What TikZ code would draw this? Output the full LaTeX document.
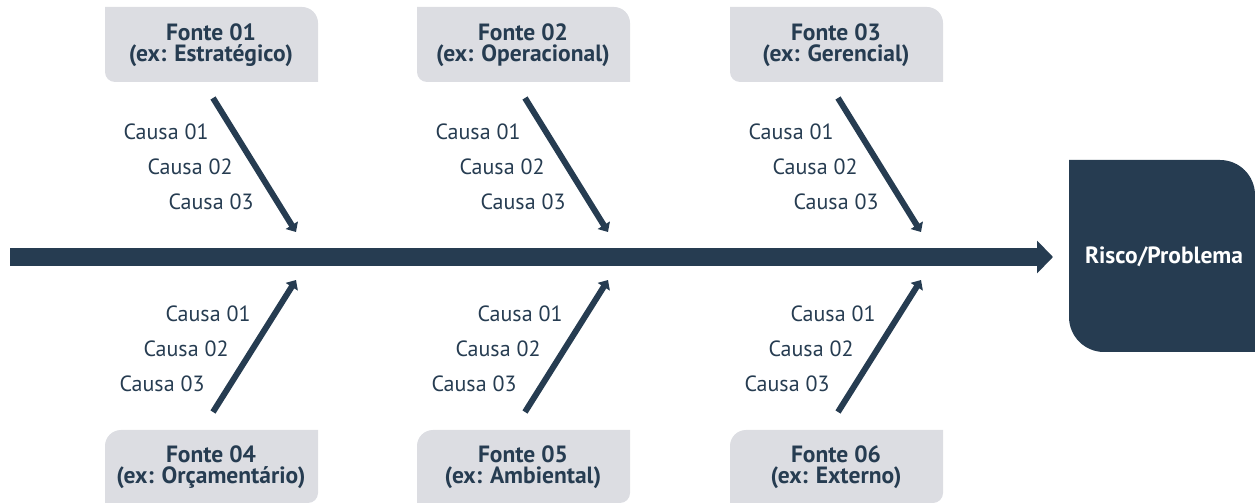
\documentclass[tikz,border=0pt]{standalone}
\usepackage{fontspec}
\setmainfont{PT Sans}
\usetikzlibrary{arrows.meta}
\definecolor{navy}{RGB}{38,60,81}
\definecolor{boxgrey}{RGB}{220,221,226}
\tikzset{
  causa/.style={anchor=base, text=navy, inner sep=0pt, font=\fontsize{22}{24}\selectfont},
  fonte/.style={text=navy, align=center, inner sep=0pt, font=\bfseries\fontsize{23.5}{21.5}\selectfont},
  rib/.style={navy, line width=6pt, -{Triangle[width=14pt,length=8pt]}},
}
\begin{document}
\begin{tikzpicture}[x=1pt, y=1pt]
	\useasboundingbox (0,0) rectangle (1255,503);
	% spine
	\coordinate (tail) at (10,246);
	\coordinate (head) at (1053,246);
	\draw[navy, line width=18pt, -{Triangle[width=32pt,length=16pt]}] (tail)--(head);
	% effect
	\fill[navy] (1069,186)--(1069,343)--(1220,343) arc[start angle=90, end angle=0, radius=35]--(1255,151)--(1104,151) arc[start angle=270, end angle=180, radius=35]--cycle;
	\node[text=white, font=\bfseries\fontsize{23.5}{24}\selectfont] (risco) at (1164,246) {Risco/Problema};
	% sources and causes
	\foreach \o/\i in {0/1,312/2,625/3}{
		\fill[boxgrey] (105+\o,431)--(105+\o,496)--(302+\o,496) arc[start angle=90, end angle=0, radius=16]--(318+\o,421)--(115+\o,421) arc[start angle=270, end angle=180, radius=10]--cycle;
		\fill[boxgrey] (105+\o,0)--(105+\o,57) arc[start angle=180, end angle=90, radius=16]--(318+\o,73)--(318+\o,10) arc[start angle=0, end angle=-90, radius=10]--cycle;
		\coordinate (up\i) at (213+\o,405);
		\coordinate (upend\i) at (296+\o,271);
		\coordinate (lo\i) at (213+\o,91);
		\coordinate (loend\i) at (296+\o,223);
		\draw[rib] (up\i)--(upend\i);
		\draw[rib] (lo\i)--(loend\i);
		\node[causa] (ca\i) at (166+\o,363) {Causa 01};
		\node[causa] (cb\i) at (190+\o,328) {Causa 02};
		\node[causa] (cc\i) at (211+\o,293) {Causa 03};
		\node[causa] (cd\i) at (208+\o,181) {Causa 01};
		\node[causa] (ce\i) at (186+\o,146) {Causa 02};
		\node[causa] (cf\i) at (162+\o,111) {Causa 03};
	}
	\node[fonte] (f1) at (211,458) {Fonte 01\\(ex: Estratégico)};
	\node[fonte] (f2) at (523,458) {Fonte 02\\(ex: Operacional)};
	\node[fonte] (f3) at (836,458) {Fonte 03\\(ex: Gerencial)};
	\node[fonte] (f4) at (211,36) {Fonte 04\\(ex: Orçamentário)};
	\node[fonte] (f5) at (523,36) {Fonte 05\\(ex: Ambiental)};
	\node[fonte] (f6) at (836,36) {Fonte 06\\(ex: Externo)};
\end{tikzpicture}
\end{document}
